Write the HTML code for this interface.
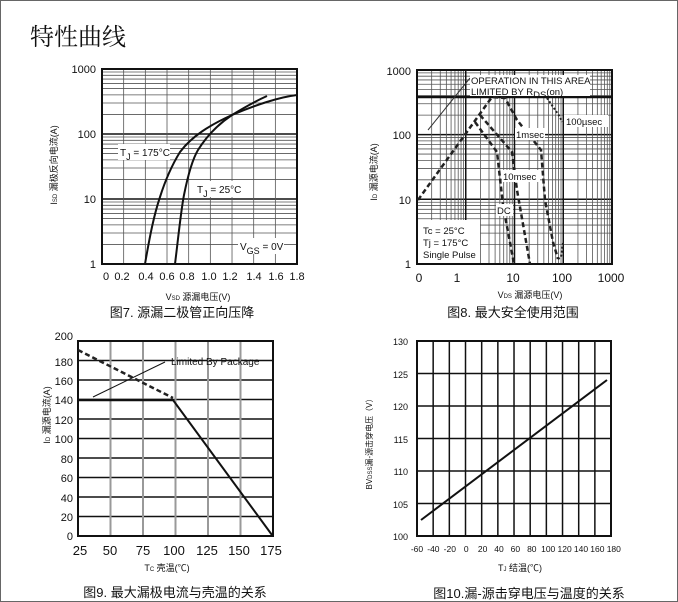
<!DOCTYPE html>
<html><head><meta charset="utf-8"><style>
html,body{margin:0;padding:0;background:#fff}
body{width:678px;height:602px;overflow:hidden;position:relative}
svg{position:absolute;left:0;top:0}
text{font-family:"Liberation Sans","Noto Sans CJK SC",sans-serif;fill:#111}
</style></head><body>
<svg width="678" height="602" viewBox="0 0 678 602" xmlns="http://www.w3.org/2000/svg">
<rect x="0.5" y="0.5" width="677" height="601" fill="#fff" stroke="#666" stroke-width="1"/>
<text x="30" y="45" font-size="24" style="font-family:'Noto Serif CJK SC','Noto Sans CJK SC',serif">特性曲线</text>
<g id="g1"></g><g id="g2"></g><g id="g3"></g><g id="g4"></g>

<!-- Chart 1 -->
<rect x="102" y="69" width="195" height="195" fill="none" stroke="#111" stroke-width="2"/>
<path d="M145,264 C150,235 154,215 160,197 C166,178 172,165 180,152 C192,136 210,125 232,115 C255,105 280,97 297,95" fill="none" stroke="#111" stroke-width="2"/>
<path d="M175,264 C178,240 181,210 184,195 C188,175 192,160 198,150 C208,134 220,123 232,115 C245,107 258,100 267,96" fill="none" stroke="#111" stroke-width="2"/>
<g font-size="11" text-anchor="end"><text x="96" y="73">1000</text><text x="96" y="138">100</text><text x="96" y="203">10</text><text x="96" y="268">1</text></g>
<g font-size="11" text-anchor="middle"><text x="106" y="280">0</text><text x="122" y="280">0.2</text><text x="146" y="280">0.4</text><text x="167" y="280">0.6</text><text x="187" y="280">0.8</text><text x="209" y="280">1.0</text><text x="230" y="280">1.2</text><text x="254" y="280">1.4</text><text x="276" y="280">1.6</text><text x="297" y="280">1.8</text></g>
<rect x="118" y="144" width="52" height="16" fill="#fff"/>
<text x="120" y="156" font-size="10">T<tspan font-size="9" dy="4">J</tspan><tspan dy="-4"> = 175°C</tspan></text>
<rect x="195" y="181" width="50" height="16" fill="#fff"/>
<text x="197" y="193" font-size="10">T<tspan font-size="9" dy="4">J</tspan><tspan dy="-4"> = 25°C</tspan></text>
<rect x="238" y="238" width="46" height="16" fill="#fff"/>
<text x="240" y="250" font-size="10">V<tspan font-size="9" dy="4">GS</tspan><tspan dy="-4"> = 0V</tspan></text>
<text transform="translate(57,165) rotate(-90)" font-size="9" text-anchor="middle">I<tspan font-size="6">SD</tspan> 漏极反向电流(A)</text>
<text x="198" y="300" font-size="9" text-anchor="middle">V<tspan font-size="6">SD</tspan> 源漏电压(V)</text>
<text x="182" y="317" font-size="13" text-anchor="middle">图7. 源漏二极管正向压降</text>

<!-- Chart 2 -->
<rect x="417" y="70" width="195" height="194" fill="none" stroke="#111" stroke-width="2"/>
<line x1="417" y1="97" x2="612" y2="97" stroke="#111" stroke-width="2.5"/>
<g fill="none" stroke="#222" stroke-width="2.5" stroke-dasharray="5,3">
<path d="M418,200 L492,97 L505,98 L517,120 L541,150 L545,200 L553,242 L558,259"/>
<path d="M480,115 L512,152 L517,190 L530,264"/>
<path d="M475,122 L497,152 L503,205 L514,264"/>
</g>
<path d="M547,98 L560,117 L562,122" fill="none" stroke="#222" stroke-width="2" stroke-dasharray="2,2"/>
<path d="M558,259 L561,257 L563,243" fill="none" stroke="#222" stroke-width="2" stroke-dasharray="2,2"/>
<line x1="428" y1="130" x2="470" y2="78" stroke="#333" stroke-width="1"/>
<rect x="470" y="75" width="120" height="21" fill="#fff"/>
<text x="471" y="84" font-size="9.5">OPERATION IN THIS AREA</text>
<text x="471" y="95" font-size="9.5">LIMITED BY R<tspan dy="3">DS</tspan><tspan dy="-3">(on)</tspan></text>
<rect x="564" y="115" width="44" height="12" fill="#fff"/>
<text x="566" y="125" font-size="9.5">100µsec</text>
<rect x="515" y="128" width="30" height="12" fill="#fff"/>
<text x="516" y="138" font-size="9.5">1msec</text>
<rect x="502" y="170" width="38" height="12" fill="#fff"/>
<text x="503" y="180" font-size="9.5">10msec</text>
<rect x="496" y="204" width="17" height="12" fill="#fff"/>
<text x="497" y="214" font-size="9.5">DC</text>
<rect x="418" y="220" width="62" height="43" fill="#fff"/>
<text x="423" y="234" font-size="9.5">Tc = 25°C</text>
<text x="423" y="246" font-size="9.5">Tj = 175°C</text>
<text x="423" y="258" font-size="9.5">Single Pulse</text>
<g font-size="11" text-anchor="end"><text x="411" y="75">1000</text><text x="411" y="139">100</text><text x="411" y="204">10</text><text x="411" y="268">1</text></g>
<g font-size="12" text-anchor="middle"><text x="419" y="282">0</text><text x="457" y="282">1</text><text x="513" y="282">10</text><text x="562" y="282">100</text><text x="611" y="282">1000</text></g>
<text transform="translate(377,172) rotate(-90)" font-size="9" text-anchor="middle">I<tspan font-size="6">D</tspan> 漏源电流(A)</text>
<text x="530" y="298" font-size="9" text-anchor="middle">V<tspan font-size="6">DS</tspan> 漏源电压(V)</text>
<text x="513" y="317" font-size="13" text-anchor="middle">图8. 最大安全使用范围</text>

<!-- Chart 3 -->
<rect x="78" y="341" width="195" height="195" fill="none" stroke="#111" stroke-width="2"/>
<line x1="78" y1="400" x2="173" y2="400" stroke="#111" stroke-width="2.5"/>
<line x1="173" y1="400" x2="272" y2="535" stroke="#111" stroke-width="2"/>
<line x1="78" y1="350" x2="173" y2="398" stroke="#222" stroke-width="2.5" stroke-dasharray="5,3"/>
<line x1="93" y1="397" x2="165" y2="362" stroke="#111" stroke-width="1"/>
<text x="171" y="365" font-size="10">Limited By Package</text>
<g font-size="11" text-anchor="end"><text x="73" y="340">200</text><text x="73" y="366">180</text><text x="73" y="385">160</text><text x="73" y="404">140</text><text x="73" y="424">120</text><text x="73" y="443">100</text><text x="73" y="463">80</text><text x="73" y="482">60</text><text x="73" y="502">40</text><text x="73" y="521">20</text><text x="73" y="540">0</text></g>
<g font-size="13" text-anchor="middle"><text x="80" y="555">25</text><text x="110" y="555">50</text><text x="143" y="555">75</text><text x="174" y="555">100</text><text x="207" y="555">125</text><text x="239" y="555">150</text><text x="271" y="555">175</text></g>
<text transform="translate(50,415) rotate(-90)" font-size="9" text-anchor="middle">I<tspan font-size="6">D</tspan> 漏源电流(A)</text>
<text x="167" y="571" font-size="9" text-anchor="middle">T<tspan font-size="6">C</tspan> 壳温(℃)</text>
<text x="175" y="597" font-size="13" text-anchor="middle">图9. 最大漏极电流与壳温的关系</text>

<!-- Chart 4 -->
<rect x="417" y="341" width="194" height="195" fill="none" stroke="#111" stroke-width="2"/>
<line x1="421" y1="520" x2="607" y2="380" stroke="#111" stroke-width="2"/>
<g font-size="9" text-anchor="end"><text x="408" y="345">130</text><text x="408" y="378">125</text><text x="408" y="410">120</text><text x="408" y="443">115</text><text x="408" y="475">110</text><text x="408" y="508">105</text><text x="408" y="540">100</text></g>
<g font-size="8.5" text-anchor="middle" id="x4"></g>
<text transform="translate(372,442) rotate(-90)" font-size="8" text-anchor="middle">BV<tspan font-size="6">DSS</tspan>漏-源击穿电压（V）</text>
<text x="520" y="571" font-size="9" text-anchor="middle">T<tspan font-size="6">J</tspan> 结温(℃)</text>
<text x="529" y="598" font-size="13" text-anchor="middle">图10.漏-源击穿电压与温度的关系</text>
</svg>
<script>
var NS="http://www.w3.org/2000/svg";
function L(g,x1,y1,x2,y2,c,w){var l=document.createElementNS(NS,"line");l.setAttribute("x1",x1);l.setAttribute("y1",y1);l.setAttribute("x2",x2);l.setAttribute("y2",y2);l.setAttribute("stroke",c);l.setAttribute("stroke-width",w);g.appendChild(l);}
var g1=document.getElementById("g1");
for(var d=0;d<3;d++){for(var k=2;k<=10;k++){var y=264-65*d-65*Math.log10(k);L(g1,102,y,297,y,k==10?"#111":"#555",k==10?1.5:0.8);}}
for(var i=1;i<9;i++){var x=102+21.67*i;L(g1,x,69,x,264,"#555",0.8);}
var g2=document.getElementById("g2");
for(var d=0;d<3;d++){for(var k=2;k<=10;k++){var y=264-64.7*d-64.7*Math.log10(k);L(g2,417,y,612,y,k==10?"#111":"#555",k==10?1.5:0.8);}}
for(var d=0;d<4;d++){for(var k=2;k<=10;k++){var x=417+48.75*d+48.75*Math.log10(k);if(x<611)L(g2,x,70,x,264,k==10?"#111":"#555",k==10?1.5:0.8);}}
var g3=document.getElementById("g3");
for(var i=1;i<10;i++){var y=536-19.5*i;L(g3,78,y,273,y,"#111",1.5);}
for(var i=1;i<6;i++){var x=78+32.5*i;L(g3,x,341,x,536,"#999",2);}
var g4=document.getElementById("g4");
for(var i=1;i<6;i++){var y=536-32.5*i;L(g4,417,y,611,y,"#111",1.5);}
for(var i=1;i<12;i++){var x=417+16.17*i;L(g4,x,341,x,536,"#111",1.5);}
var x4=document.getElementById("x4");
for(var i=0;i<=12;i++){var t=document.createElementNS(NS,"text");t.setAttribute("x",417+16.4*i);t.setAttribute("y",552);t.textContent=String(-60+20*i);x4.appendChild(t);}
</script>
</body></html>
